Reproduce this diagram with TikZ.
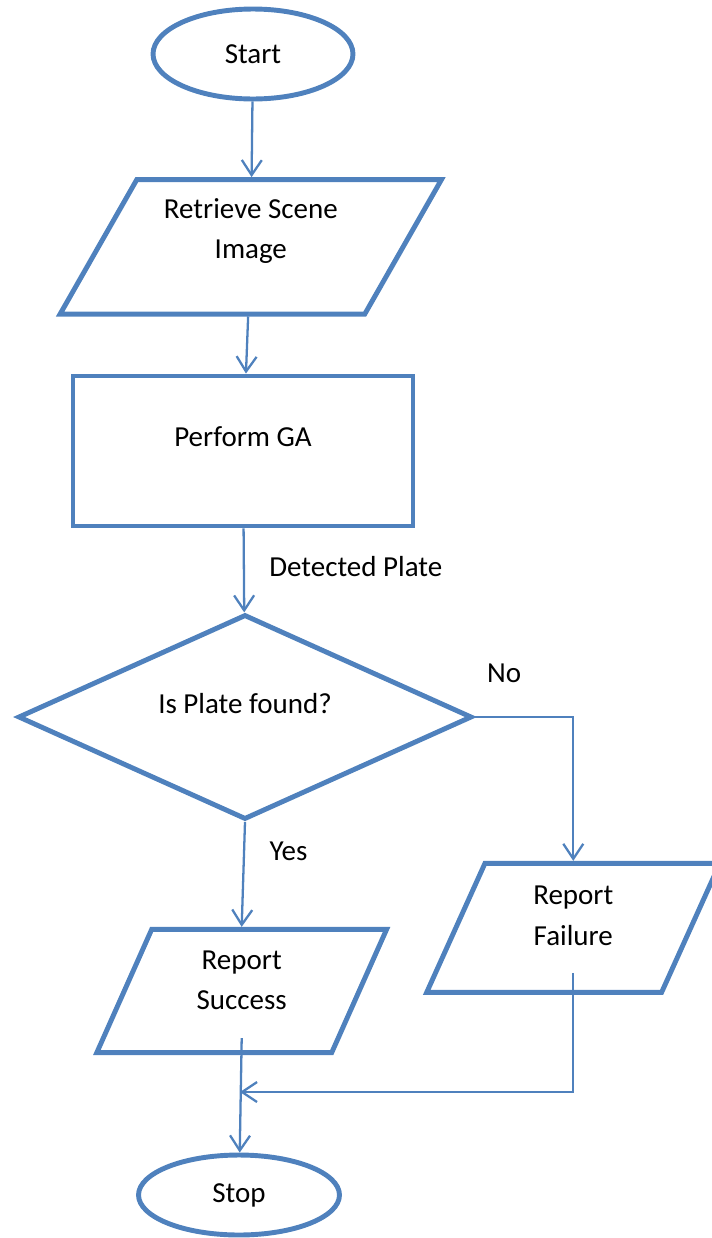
\documentclass[tikz,border=0pt]{standalone}
\usepackage{fontspec}
\setmainfont{Carlito}
\usetikzlibrary{arrows.meta,shapes.geometric}

\definecolor{flowblue}{HTML}{4F81BD}

\tikzset{
  shapeline/.style={draw=flowblue, line width=2.8pt, inner sep=0pt},
  terminal/.style={shapeline, ellipse},
  process/.style={shapeline, rectangle},
  io/.style={shapeline, trapezium},
  decision/.style={shapeline, diamond},
  flow/.style={draw=flowblue, line width=1.3pt, -{Straight Barb[length=0.3cm, width=0.4cm]}},
}

\begin{document}
\begin{tikzpicture}[x=0.02cm, y=-0.02cm, font=\fontsize{16.5}{23}\selectfont]
  \useasboundingbox (0,0) rectangle (712,1238);

  % Shapes
  \node[terminal, minimum width=4cm, minimum height=1.8cm] (start) at (253,54) {Start};
  \node[io, trapezium left angle=60.3, trapezium right angle=119.7, inner xsep=2.28cm, inner ysep=1.345cm,
        label={[align=center, yshift=0.32cm]center:Retrieve Scene\\Image}] (retrieve) at (250.8,246.8) {};
  \node[process, minimum width=6.8cm, minimum height=3cm,
        label={[yshift=0.28cm]center:Perform GA}] (ga) at (243,451) {};
  \node[decision, minimum width=9.08cm, minimum height=4.1cm,
        label={[yshift=0.26cm]center:Is Plate found?}] (found) at (245,717) {};
  \node[io, trapezium left angle=66, trapezium right angle=114, inner xsep=1.8cm, inner ysep=1.234cm,
        label={[align=center, yshift=0.22cm]center:Report\\Success}] (success) at (241.7,991) {};
  \node[io, trapezium left angle=65.7, trapezium right angle=114.3, inner xsep=1.767cm, inner ysep=1.29cm,
        label={[align=center, yshift=0.24cm]center:Report\\Failure}] (failure) at (573.3,927.8) {};
  \node[terminal, minimum width=4.02cm, minimum height=1.6cm] (stop) at (239,1195) {Stop};
  \coordinate (merge) at (240,1092);

  % Flow
  \draw[flow] (start) -- (retrieve);
  \draw[flow] (retrieve) -- (ga);
  \draw[flow] (ga) -- (found) node[pos=0.45, right=0.37cm] {Detected Plate};
  \draw[flow] (found.east) -| (failure.north) node[pos=0.15, above=0.55cm] {No};
  \draw[flow] (found.south) -- (success.north) node[pos=0.28, right=0.37cm] {Yes};
  \draw[flow] ([yshift=0.34cm]success.south) -- (stop);
  \draw[flow] ([yshift=0.44cm]failure.south) |- (merge);
\end{tikzpicture}
\end{document}
